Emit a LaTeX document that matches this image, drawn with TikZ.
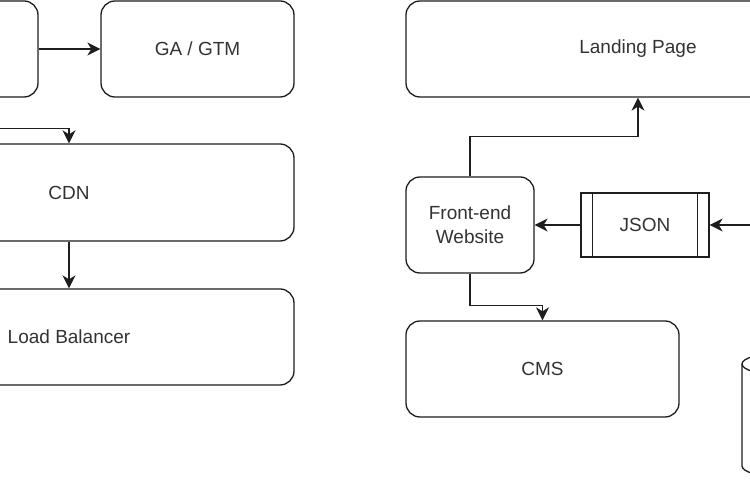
\documentclass[tikz,border=0pt]{standalone}
\usepackage{fontspec}
\setmainfont{Liberation Sans}
\usepackage{tikz}
\usetikzlibrary{arrows.meta,positioning}
\definecolor{boxline}{RGB}{30,30,30}
\definecolor{boxtext}{RGB}{51,51,51}

\begin{document}
\begin{tikzpicture}[x=1pt,y=1pt,>=Stealth,
    box/.style={draw=boxline,line width=1.3pt,rounded corners=14pt,fill=white,
      text=boxtext,align=center,inner sep=0pt,
      font=\fontsize{19}{24}\selectfont},
    link/.style={boxline,line width=1.3pt,-{Stealth[length=13pt,width=13pt,inset=4pt]}}]
  \clip (0,0) rectangle (750,500);
  \fill[white] (0,0) rectangle (750,500);
  % left column
  \node[box,minimum width=193,minimum height=96] (site) at (-58.5,451) {};
  \node[box,minimum width=193,minimum height=96] (ga) at (197.5,451) {GA / GTM};
  \node[box,minimum width=450,minimum height=97] (cdn) at (69,307.5) {CDN};
  \node[box,minimum width=450,minimum height=96] (lb) at (69,163) {Load Balancer};
  % right column
  \node[box,minimum width=464,minimum height=96] (lp) at (638,451) {Landing Page};
  \node[box,minimum width=128,minimum height=96] (fe) at (470,275) {Front-end\\Website};
  \node[box,rounded corners=0pt,minimum width=128,minimum height=64] (json) at (645,275) {JSON};
  \draw[boxline,line width=1.3pt] ([xshift=12]json.north west) -- ([xshift=12]json.south west);
  \draw[boxline,line width=1.3pt] ([xshift=-12]json.north east) -- ([xshift=-12]json.south east);
  \node[box,minimum width=273,minimum height=96] (cms) at (542.5,131) {CMS};
  \coordinate (feed) at (770,275);
  % database
  \draw[boxline,line width=1.3pt] (822,136) arc[start angle=0,end angle=360,x radius=40,y radius=11];
  \draw[boxline,line width=1.3pt] (742,136) -- (742,34)
    arc[start angle=180,end angle=360,x radius=40,y radius=11] -- (822,136);
  % connectors
  \draw[link] (site.east) -- (ga.west);
  \draw[link] (site.south) -- ++(0,-31) -| (cdn.north);
  \draw[link] (cdn.south) -- (lb.north);
  \draw[link] (fe.north) -- ++(0,40) -| (lp.south);
  \draw[link] (json.west) -- (fe.east);
  \draw[link] (feed) -- (json.east);
  \draw[link] (fe.south) -- ++(0,-32) -| (cms.north);
\end{tikzpicture}
\end{document}
